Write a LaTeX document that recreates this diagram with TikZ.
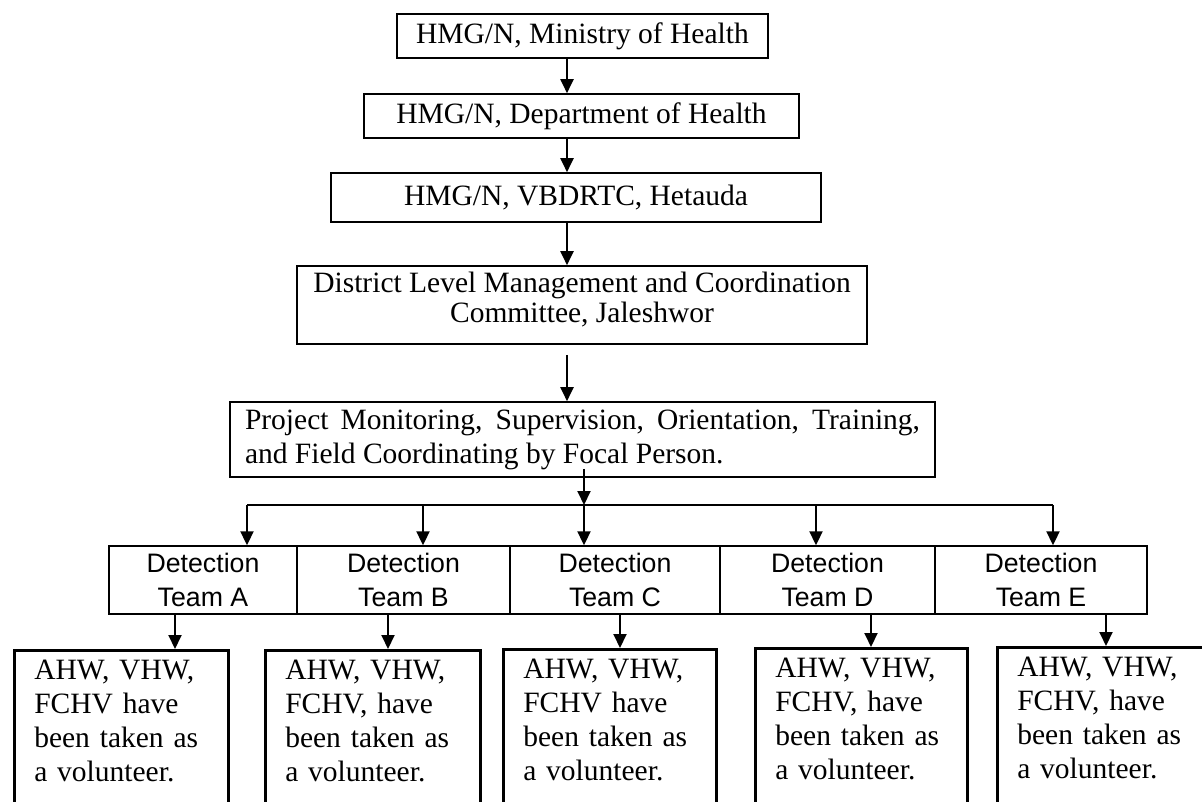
\documentclass[tikz,border=0pt]{standalone}
\usepackage{fontspec}
\setmainfont{Liberation Serif}
\setsansfont{Liberation Sans}
\usetikzlibrary{arrows.meta}
\tikzset{>={Triangle[length=14pt,width=13pt]}}

\begin{document}
\begin{tikzpicture}[x=1pt, y=-1pt,
    box/.style={draw, line width=1.6pt, inner sep=0pt, font=\fontsize{29.5}{34}\selectfont},
    team/.style={draw, line width=1.4pt, inner sep=0pt, minimum height=68pt, align=center, font=\fontsize{26.7}{34}\sffamily},
    vol/.style={draw, line width=2.6pt, anchor=north west, align=left, inner xsep=20pt, inner ysep=0pt, text height=29pt, text depth=200pt, font=\fontsize{29.5}{34}\selectfont},
    link/.style={->, line width=2pt}]
    \useasboundingbox (0,0) rectangle (1202,802);
    \clip (0,0) rectangle (1202,802);
    \node[box, minimum width=371pt, minimum height=44pt] (moh) at (582.5,36) {HMG/N, Ministry of Health};
    \node[box, minimum width=435pt, minimum height=44pt] (doh) at (581.5,116) {HMG/N, Department of Health};
    \node[box, minimum width=490pt, minimum height=49pt] (vbd) at (576,197.5) {HMG/N, VBDRTC, Hetauda};
    \node[box, minimum width=570pt, minimum height=78pt, align=center, text height=50pt, text depth=14pt,
        font=\fontsize{29.5}{30}\selectfont] (dlm) at (582,305) {District Level Management and Coordination\\Committee, Jaleshwor};
    \node[box, text width=675pt, align=justify, minimum height=75pt, inner xsep=15pt] (pms) at (582.5,439.5) {Project Monitoring, Supervision, Orientation, Training, and Field Coordinating by Focal Person.};
    \node[team, minimum width=188pt] (tA) at (203,580) {Detection\\Team A};
    \node[team, minimum width=213pt] (tB) at (403.5,580) {Detection\\Team B};
    \node[team, minimum width=210pt] (tC) at (615,580) {Detection\\Team C};
    \node[team, minimum width=215pt] (tD) at (827.5,580) {Detection\\Team D};
    \node[team, minimum width=212pt] (tE) at (1041,580) {Detection\\Team E};
    \node[vol, text width=174pt] (vA) at (13,649) {AHW, VHW,\\FCHV have\\been taken as\\a volunteer.};
    \node[vol, text width=175pt] (vB) at (264,649) {AHW, VHW,\\FCHV, have\\been taken as\\a volunteer.};
    \node[vol, text width=173pt] (vC) at (502,648) {AHW, VHW,\\FCHV have\\been taken as\\a volunteer.};
    \node[vol, text width=172pt] (vD) at (754,647) {AHW, VHW,\\FCHV, have\\been taken as\\a volunteer.};
    \node[vol, text width=230pt] (vE) at (996,646) {AHW, VHW,\\FCHV, have\\been taken as\\a volunteer.};
    \coordinate (spine) at (567,0);
    \coordinate (dA) at (247,505);
    \coordinate (dB) at (423,505);
    \coordinate (dC) at (584,505);
    \coordinate (dD) at (816,505);
    \coordinate (dE) at (1053,505);
    \coordinate (kA) at (175,0);
    \coordinate (kB) at (388,0);
    \coordinate (kC) at (620,0);
    \coordinate (kD) at (871,0);
    \coordinate (kE) at (1106,0);
    \foreach \a/\b in {moh/doh, doh/vbd, vbd/dlm}
    \draw[link] (\a.south -| spine) -- (\b.north -| spine);
    \draw[link, shorten <=10pt] (dlm.south -| spine) -- (pms.north -| spine);
    \draw[line width=2pt] (dA) -- (dE);
    \draw[link, shorten <=-9pt] (pms.south -| dC) -- (dC);
    \foreach \t in {A,B,C,D,E}
    \draw[link] (d\t) -- (d\t |- t\t.north);
    \foreach \t in {A,B,C,D,E}
    \draw[link] (t\t.south -| k\t) -- (v\t.north -| k\t);
\end{tikzpicture}
\end{document}
